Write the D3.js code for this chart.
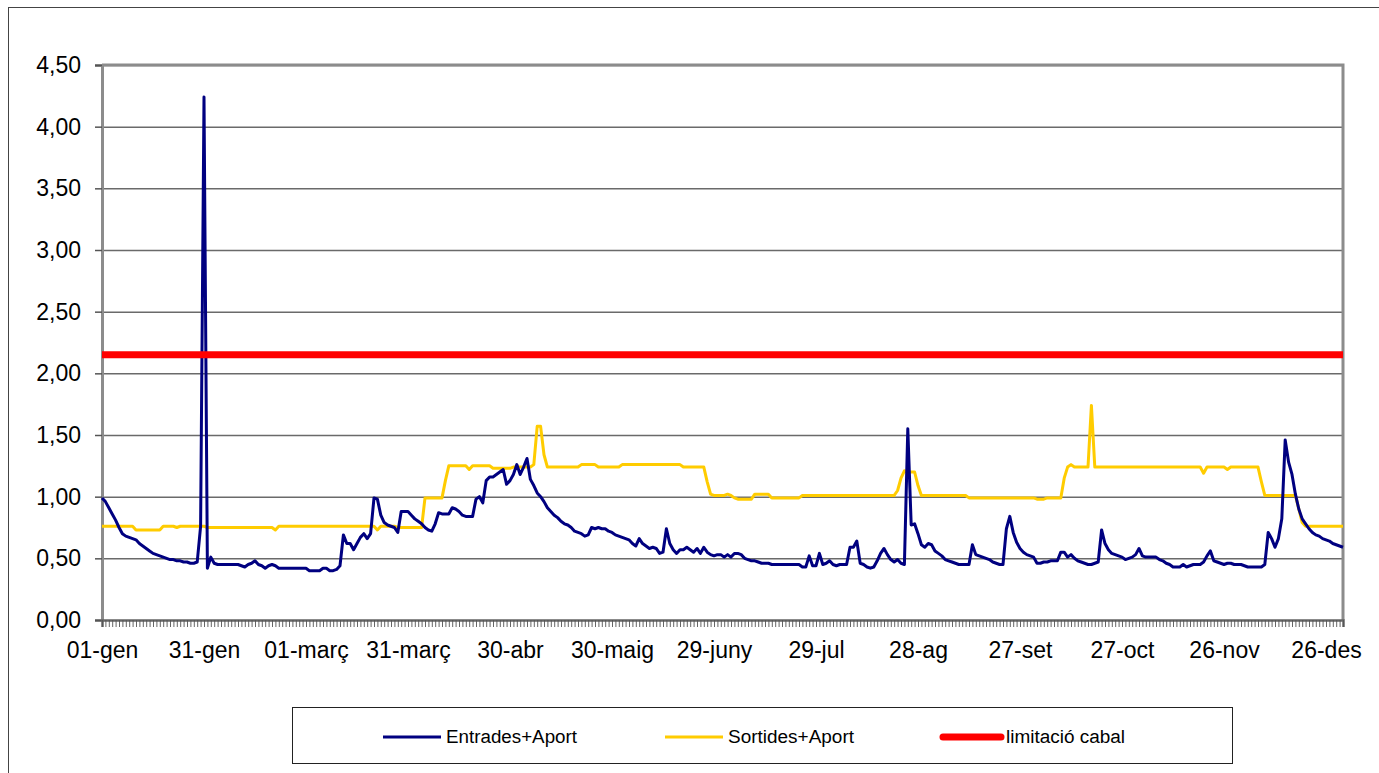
<!DOCTYPE html>
<html>
<head>
<meta charset="utf-8">
<script src="https://cdn.jsdelivr.net/npm/d3@7"></script>
<style>
  body { margin: 0; background: #fff; }
  svg { display: block; font-family: "Liberation Sans", Arial, sans-serif; }
</style>
</head>
<body>
<script>
// daily values, leap year, 01-gen .. 31-des (366 days)
var entrades = [
  // gen
  0.99,0.96,0.91,0.86,0.81,0.75,0.70,0.68,0.67,0.66,0.65,0.62,0.60,0.58,0.56,0.54,0.53,0.52,0.51,0.50,
  0.49,0.49,0.48,0.48,0.47,0.47,0.46,0.46,0.47,0.76,4.24,
  // febr
  0.42,0.51,0.46,0.45,0.45,0.45,0.45,0.45,0.45,0.45,0.44,0.43,0.45,0.46,0.48,0.45,0.44,0.42,0.44,0.45,
  0.44,0.42,0.42,0.42,0.42,0.42,0.42,0.42,0.42,
  // març
  0.42,0.40,0.40,0.40,0.40,0.42,0.42,0.40,0.40,0.41,0.44,0.69,0.62,0.62,0.57,0.62,0.67,0.70,0.66,0.70,
  0.99,0.98,0.85,0.79,0.77,0.76,0.75,0.71,0.88,0.88,0.88,
  // abr
  0.85,0.82,0.80,0.78,0.75,0.73,0.72,0.78,0.87,0.86,0.86,0.86,0.91,0.90,0.88,0.85,0.84,0.84,0.84,0.98,
  1.00,0.95,1.13,1.16,1.16,1.18,1.20,1.22,1.10,1.13,
  // maig
  1.18,1.26,1.18,1.24,1.31,1.14,1.09,1.03,1.00,0.96,0.91,0.88,0.85,0.83,0.80,0.78,0.77,0.75,0.72,0.71,
  0.70,0.68,0.69,0.75,0.74,0.75,0.74,0.74,0.72,0.71,0.69,
  // juny
  0.68,0.67,0.66,0.65,0.62,0.60,0.66,0.62,0.60,0.58,0.59,0.58,0.54,0.55,0.74,0.62,0.57,0.54,0.57,0.57,
  0.59,0.57,0.55,0.58,0.54,0.59,0.55,0.53,0.52,0.53,
  // jul
  0.53,0.51,0.53,0.51,0.54,0.54,0.53,0.50,0.49,0.48,0.48,0.47,0.46,0.46,0.46,0.45,0.45,0.45,0.45,0.45,
  0.45,0.45,0.45,0.45,0.43,0.43,0.52,0.44,0.44,0.54,0.45,
  // ag
  0.46,0.48,0.45,0.44,0.45,0.45,0.45,0.59,0.59,0.64,0.46,0.45,0.43,0.42,0.43,0.48,0.54,0.58,0.53,0.49,
  0.47,0.49,0.46,0.45,1.55,0.77,0.78,0.70,0.61,0.59,0.62,
  // set
  0.61,0.56,0.54,0.52,0.49,0.48,0.47,0.46,0.45,0.45,0.45,0.45,0.61,0.53,0.52,0.51,0.50,0.49,0.47,0.46,
  0.45,0.45,0.74,0.84,0.71,0.63,0.58,0.55,0.53,0.52,
  // oct
  0.51,0.46,0.46,0.47,0.47,0.48,0.48,0.48,0.55,0.55,0.51,0.53,0.50,0.48,0.47,0.46,0.45,0.45,0.46,0.47,
  0.73,0.62,0.57,0.54,0.53,0.52,0.51,0.49,0.50,0.51,0.53,
  // nov
  0.58,0.52,0.51,0.51,0.51,0.51,0.49,0.48,0.46,0.45,0.43,0.43,0.43,0.45,0.43,0.44,0.45,0.45,0.45,0.47,
  0.52,0.56,0.48,0.47,0.46,0.45,0.46,0.46,0.45,0.45,
  // des
  0.45,0.44,0.43,0.43,0.43,0.43,0.43,0.45,0.71,0.66,0.59,0.66,0.82,1.46,1.28,1.18,1.02,0.90,0.82,0.78,
  0.74,0.71,0.69,0.68,0.66,0.65,0.64,0.62,0.61,0.60,0.59
];

var sortides = [
  // gen
  0.76,0.76,0.76,0.76,0.76,0.76,0.76,0.76,0.76,0.76,0.73,0.73,0.73,0.73,0.73,0.73,0.73,0.73,0.76,0.76,
  0.76,0.76,0.75,0.76,0.76,0.76,0.76,0.76,0.76,0.76,0.76,
  // febr
  0.75,0.75,0.75,0.75,0.75,0.75,0.75,0.75,0.75,0.75,0.75,0.75,0.75,0.75,0.75,0.75,0.75,0.75,0.75,0.75,
  0.73,0.76,0.76,0.76,0.76,0.76,0.76,0.76,0.76,
  // març
  0.76,0.76,0.76,0.76,0.76,0.76,0.76,0.76,0.76,0.76,0.76,0.76,0.76,0.76,0.76,0.76,0.76,0.76,0.76,0.76,
  0.76,0.73,0.76,0.76,0.76,0.76,0.76,0.75,0.75,0.75,0.75,
  // abr
  0.75,0.75,0.75,0.75,0.99,0.99,0.99,0.99,0.99,0.99,1.13,1.25,1.25,1.25,1.25,1.25,1.25,1.22,1.25,1.25,
  1.25,1.25,1.25,1.25,1.23,1.23,1.23,1.23,1.23,1.23,
  // maig
  1.24,1.24,1.24,1.24,1.24,1.24,1.26,1.57,1.57,1.34,1.24,1.24,1.24,1.24,1.24,1.24,1.24,1.24,1.24,1.24,
  1.26,1.26,1.26,1.26,1.26,1.24,1.24,1.24,1.24,1.24,1.24,
  // juny
  1.24,1.26,1.26,1.26,1.26,1.26,1.26,1.26,1.26,1.26,1.26,1.26,1.26,1.26,1.26,1.26,1.26,1.26,1.26,1.24,
  1.24,1.24,1.24,1.24,1.24,1.24,1.12,1.02,1.01,1.01,
  // jul
  1.01,1.01,1.02,1.01,0.99,0.98,0.98,0.98,0.98,0.98,1.02,1.02,1.02,1.02,1.02,0.99,0.99,0.99,0.99,0.99,
  0.99,0.99,0.99,0.99,1.01,1.01,1.01,1.01,1.01,1.01,1.01,
  // ag
  1.01,1.01,1.01,1.01,1.01,1.01,1.01,1.01,1.01,1.01,1.01,1.01,1.01,1.01,1.01,1.01,1.01,1.01,1.01,1.01,
  1.01,1.05,1.15,1.21,1.20,1.20,1.20,1.09,1.01,1.01,1.01,
  // set
  1.01,1.01,1.01,1.01,1.01,1.01,1.01,1.01,1.01,1.01,1.01,0.99,0.99,0.99,0.99,0.99,0.99,0.99,0.99,0.99,
  0.99,0.99,0.99,0.99,0.99,0.99,0.99,0.99,0.99,0.99,
  // oct
  0.99,0.98,0.98,0.98,0.99,0.99,0.99,0.99,0.99,1.15,1.24,1.26,1.24,1.24,1.24,1.24,1.24,1.74,1.24,1.24,
  1.24,1.24,1.24,1.24,1.24,1.24,1.24,1.24,1.24,1.24,1.24,
  // nov
  1.24,1.24,1.24,1.24,1.24,1.24,1.24,1.24,1.24,1.24,1.24,1.24,1.24,1.24,1.24,1.24,1.24,1.24,1.24,1.19,
  1.24,1.24,1.24,1.24,1.24,1.24,1.22,1.24,1.24,1.24,
  // des
  1.24,1.24,1.24,1.24,1.24,1.24,1.12,1.01,1.01,1.01,1.01,1.01,1.01,1.01,1.01,1.01,1.01,0.90,0.79,0.76,
  0.76,0.76,0.76,0.76,0.76,0.76,0.76,0.76,0.76,0.76,0.76
];

var limitacio = 2.15;

var tickDays   = [0, 30, 60, 90, 120, 150, 180, 210, 240, 270, 300, 330, 360];
var tickLabels = ["01-gen", "31-gen", "01-març", "31-març", "30-abr", "30-maig", "29-juny",
                  "29-jul", "28-ag", "27-set", "27-oct", "26-nov", "26-des"];
var yTicks = [0, 0.5, 1, 1.5, 2, 2.5, 3, 3.5, 4, 4.5];

var seriesNames  = ["Entrades+Aport", "Sortides+Aport", "limitació cabal"];
var seriesColors = ["#000080", "#ffcc00", "#ff0000"];

var W = 1379, H = 773;
var plotL = 102, plotR = 1343, plotT = 65, plotB = 620;

var svg = d3.select("body").append("svg").attr("width", W).attr("height", H);

// outer chart frame
svg.append("rect")
  .attr("x", 8.5).attr("y", 7.5).attr("width", 1400).attr("height", 800)
  .attr("fill", "#fff").attr("stroke", "#444").attr("stroke-width", 1);

var days = d3.range(entrades.length);
var x = d3.scaleLinear().domain([0, days.length - 1]).range([plotL, plotR]);
var y = d3.scaleLinear().domain([0, 4.5]).range([plotB, plotT]);

// horizontal gridlines
svg.append("g")
  .attr("transform", "translate(" + plotL + ",0)")
  .call(d3.axisLeft(y).tickValues(yTicks.slice(1)).tickSize(-(plotR - plotL)).tickFormat(""))
  .call(function (g) {
    g.select(".domain").remove();
    g.selectAll("line").attr("stroke", "#6a6a6a").attr("stroke-width", 1.5);
  });

// plot frame: top + right in grey
svg.append("path")
  .attr("d", "M" + plotL + "," + plotT + "H" + plotR + "V" + plotB)
  .attr("fill", "none").attr("stroke", "#8c8c8c").attr("stroke-width", 3);

// y axis
svg.append("g")
  .attr("transform", "translate(" + plotL + ",0)")
  .call(d3.axisLeft(y).tickValues(yTicks).tickSize(7).tickPadding(14)
    .tickFormat(function (d) { return d3.format(".2f")(d).replace(".", ","); }))
  .call(function (g) {
    g.select(".domain").attr("stroke", "#8c8c8c").attr("stroke-width", 3);
    g.selectAll("line").attr("stroke", "#555").attr("stroke-width", 1.5);
    g.selectAll("text").attr("font-size", 23).attr("fill", "#000")
      .attr("font-family", "Liberation Sans, Arial, sans-serif");
  });

// x axis: a small tick every day
svg.append("g")
  .attr("transform", "translate(0," + plotB + ")")
  .call(d3.axisBottom(x).tickValues(days).tickSize(7).tickFormat(""))
  .call(function (g) {
    g.select(".domain").attr("stroke", "#666").attr("stroke-width", 2.5);
    g.selectAll("line").attr("stroke", "#555").attr("stroke-width", 0.9);
  });

// x labels
svg.append("g")
  .attr("transform", "translate(0," + plotB + ")")
  .call(d3.axisBottom(x).tickValues(tickDays).tickSize(0).tickPadding(22)
    .tickFormat(function (d, i) { return tickLabels[i]; }))
  .call(function (g) {
    g.select(".domain").remove();
    g.selectAll("text").attr("font-size", 23).attr("fill", "#000")
      .attr("font-family", "Liberation Sans, Arial, sans-serif");
  });

var line = d3.line()
  .x(function (d, i) { return x(i); })
  .y(function (d) { return y(d); });

svg.append("path")
  .datum(sortides)
  .attr("d", line)
  .attr("fill", "none").attr("stroke", seriesColors[1]).attr("stroke-width", 3)
  .attr("stroke-linejoin", "round");

svg.append("path")
  .datum(entrades)
  .attr("d", line)
  .attr("fill", "none").attr("stroke", seriesColors[0]).attr("stroke-width", 3)
  .attr("stroke-linejoin", "round");

svg.append("path")
  .datum(days.map(function () { return limitacio; }))
  .attr("d", line)
  .attr("fill", "none").attr("stroke", seriesColors[2]).attr("stroke-width", 7);

// legend
var legend = svg.append("g");
legend.append("rect")
  .attr("x", 292.5).attr("y", 707.5).attr("width", 940).attr("height", 56)
  .attr("fill", "#fff").attr("stroke", "#222").attr("stroke-width", 1);

var legX = [383, 665, 943];
var legW = [131, 126, 119];
seriesNames.forEach(function (name, i) {
  legend.append("line")
    .attr("x1", legX[i]).attr("x2", legX[i] + 58)
    .attr("y1", 737).attr("y2", 737)
    .attr("stroke", seriesColors[i])
    .attr("stroke-width", i === 2 ? 7 : 3)
    .attr("stroke-linecap", i === 2 ? "round" : "butt");
  legend.append("text")
    .attr("x", legX[i] + 63).attr("y", 743)
    .attr("font-size", 18)
    .attr("textLength", legW[i]).attr("lengthAdjust", "spacingAndGlyphs")
    .text(name);
});
</script>
</body>
</html>
